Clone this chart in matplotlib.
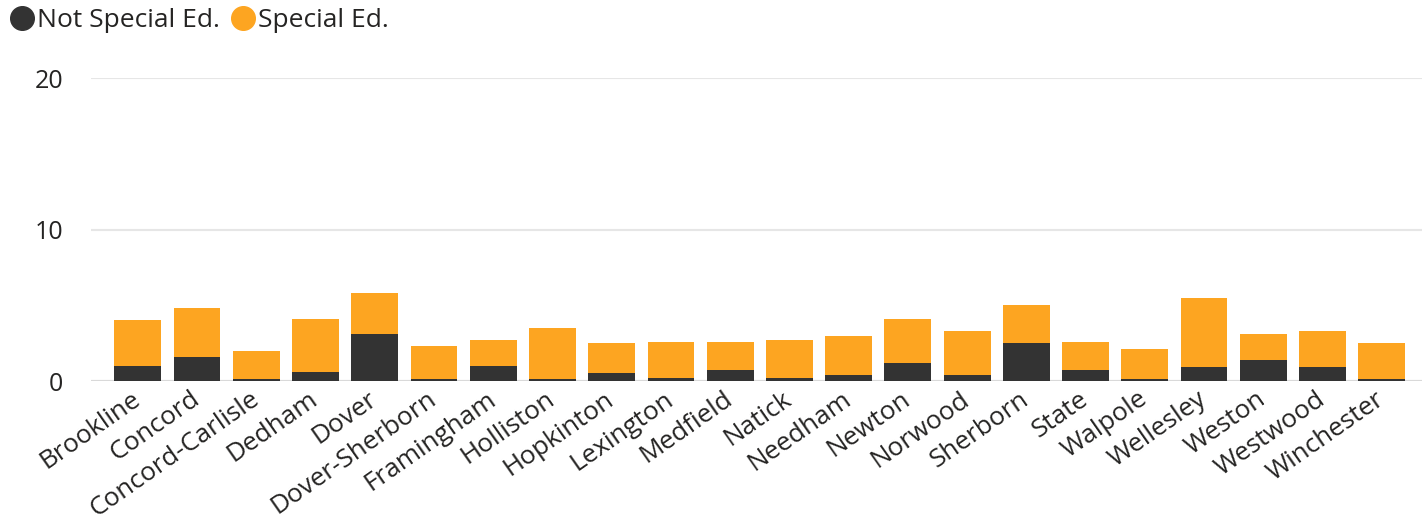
import matplotlib.pyplot as plt
import matplotlib.transforms as mtransforms
import numpy as np
from matplotlib.lines import Line2D

# ---- datos ----
distritos = ['Brookline', 'Concord', 'Concord-Carlisle', 'Dedham', 'Dover',
             'Dover-Sherborn', 'Framingham', 'Holliston', 'Hopkinton', 'Lexington',
             'Medfield', 'Natick', 'Needham', 'Newton', 'Norwood', 'Sherborn',
             'State', 'Walpole', 'Wellesley', 'Weston', 'Westwood', 'Winchester']
not_special = [1.0, 1.6, 0.1, 0.6, 3.1, 0.1, 1.0, 0.1, 0.5, 0.2, 0.7,
               0.2, 0.4, 1.2, 0.4, 2.5, 0.7, 0.1, 0.9, 1.4, 0.9, 0.1]
special = [3.0, 3.2, 1.9, 3.5, 2.7, 2.2, 1.7, 3.4, 2.0, 2.4, 1.9,
           2.5, 2.6, 2.9, 2.9, 2.5, 1.9, 2.0, 4.6, 1.7, 2.4, 2.4]

c_dark = '#333333'
c_orange = '#FDA521'
c_text = '#252423'

plt.rcParams['font.family'] = ['Open Sans', 'DejaVu Sans']

fig = plt.figure(figsize=(14.27, 5.2), dpi=100)
ax = fig.add_axes([0.0636, 0.2673, 0.9327, 0.582])

x = np.arange(len(distritos))
ax.bar(x, not_special, width=0.79, color=c_dark, zorder=3)
ax.bar(x, special, width=0.79, bottom=not_special, color=c_orange, zorder=3)

ax.set_xlim(-0.795, len(distritos) - 1 + 0.675)
ax.set_ylim(0, 20)
ax.set_yticks([0, 10, 20])
ax.yaxis.grid(True, color='#E6E6E6', linewidth=1.5, zorder=0)
for s in ax.spines.values():
    s.set_visible(False)
ax.axhline(0, color='#D9D9D9', linewidth=1.5, zorder=2)

ax.tick_params(axis='y', length=0, pad=20, labelsize=18, labelcolor=c_text)
ax.tick_params(axis='x', length=0, pad=4, labelsize=18.8, labelcolor=c_text)
ax.set_xticks(x)
ax.set_xticklabels(distritos, rotation=35, ha='right', rotation_mode='anchor')
# corro un poco las etiquetas a la izquierda
desplaz = mtransforms.ScaledTranslation(-7 / 100, 0, fig.dpi_scale_trans)
for lbl in ax.get_xticklabels():
    lbl.set_transform(lbl.get_transform() + desplaz)

handles = [Line2D([], [], marker='o', linestyle='none', markersize=17, color=c_dark),
           Line2D([], [], marker='o', linestyle='none', markersize=17, color=c_orange)]
fig.legend(handles, ['Not Special Ed.', 'Special Ed.'], loc='upper left',
           bbox_to_anchor=(-0.009, 1.03), ncol=2, frameon=False, fontsize=19,
           handlelength=0.85, handletextpad=0.15, columnspacing=0.45,
           labelcolor=c_text)

plt.savefig('out.png')
